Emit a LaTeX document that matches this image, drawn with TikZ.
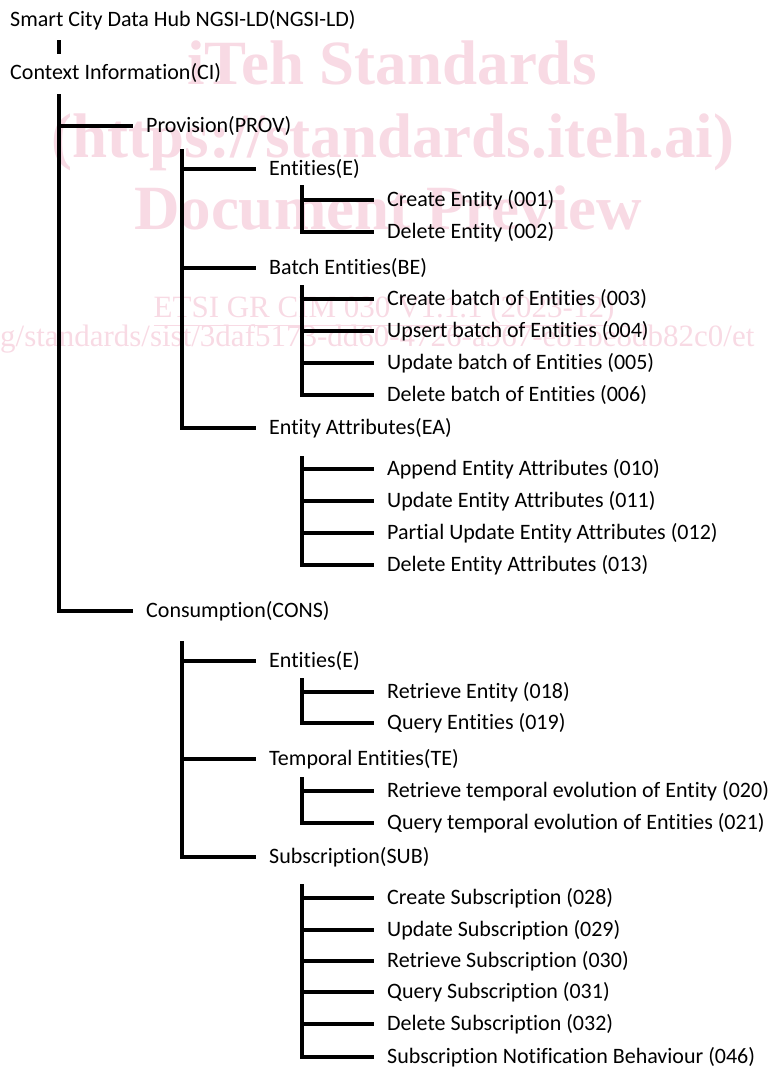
\documentclass[tikz,border=0pt]{standalone}
\usepackage{fontspec}
\setmainfont{Carlito}[Ligatures=NoCommon]
\newfontfamily\wmfont{Liberation Serif}
\definecolor{wmpink}{RGB}{248,218,228}

\tikzset{
  branch/.style={line width=3.2pt},
  item/.style={anchor=west, inner sep=0pt, font=\fontsize{22}{26}\selectfont},
  wmbig/.style={anchor=base, inner sep=0pt, text=wmpink, font=\wmfont\bfseries\fontsize{63}{70}\selectfont},
  wmsmall/.style={anchor=base, inner sep=0pt, text=wmpink, font=\wmfont\fontsize{31}{34}\selectfont}
}

\begin{document}
\begin{tikzpicture}[x=1pt, y=-1pt]
    \useasboundingbox (0,0) rectangle (774,1068);

    % Watermark behind the tree
    \begin{scope}
      \clip (0,0) rectangle (774,1068);
      \node[wmbig] (wm-iteh) at (392,84) {iTeh Standards};
      \node[wmbig] (wm-url) at (393,157) {(https://standards.iteh.ai)};
      \node[wmbig] (wm-doc) at (388,229) {Document Preview};
      \node[wmsmall] (wm-etsi) at (384,317) {\underline{ETSI GR CIM 030 V1.1.1 (2023-12)}};
      \node[wmsmall, anchor=base west] (wm-link) at (0,346) {g/standards/sist/3daf5173-dd60-4726-a967-e81be8db82c0/et};
    \end{scope}

    % Root and context information
    \node[item] (hub) at (10,20) {Smart City Data Hub NGSI-LD(NGSI-LD)};
    \node[item] (ci) at (10,73) {Context Information(CI)};
    \coordinate (tick-top) at (59,40);
    \coordinate (tick-bot) at (59,54);
    \draw[branch] (tick-top) -- (tick-bot);

    % Level 1
    \node[item] (prov) at (146,126) {Provision(PROV)};
    \node[item] (cons) at (146,611) {Consumption(CONS)};
    \coordinate (ci-top) at (59,94);
    \draw[branch] (ci-top) |- ([xshift=-13pt]prov.west);
    \draw[branch] (ci-top) |- ([xshift=-13pt]cons.west);

    % Provision branch
    \node[item] (prov-e) at (269,169) {Entities(E)};
    \node[item] (prov-be) at (269,268) {Batch Entities(BE)};
    \node[item] (prov-ea) at (269,428) {Entity Attributes(EA)};
    \coordinate (prov-top) at (182,149);
    \draw[branch] (prov-top) |- ([xshift=-13pt]prov-e.west);
    \draw[branch] (prov-top) |- ([xshift=-13pt]prov-be.west);
    \draw[branch] (prov-top) |- ([xshift=-13pt]prov-ea.west);

    % Entities(E)
    \node[item] (op001) at (387,200) {Create Entity (001)};
    \node[item] (op002) at (387,232) {Delete Entity (002)};
    \coordinate (prov-e-top) at (302,185);
    \draw[branch] (prov-e-top) |- ([xshift=-13pt]op001.west);
    \draw[branch] (prov-e-top) |- ([xshift=-13pt]op002.west);

    % Batch Entities(BE)
    \node[item] (op003) at (387,299) {Create batch of Entities (003)};
    \node[item] (op004) at (387,331) {Upsert batch of Entities (004)};
    \node[item] (op005) at (387,363) {Update batch of Entities (005)};
    \node[item] (op006) at (387,395) {Delete batch of Entities (006)};
    \coordinate (prov-be-top) at (302,285);
    \draw[branch] (prov-be-top) |- ([xshift=-13pt]op003.west);
    \draw[branch] (prov-be-top) |- ([xshift=-13pt]op004.west);
    \draw[branch] (prov-be-top) |- ([xshift=-13pt]op005.west);
    \draw[branch] (prov-be-top) |- ([xshift=-13pt]op006.west);

    % Entity Attributes(EA)
    \node[item] (op010) at (387,469) {Append Entity Attributes (010)};
    \node[item] (op011) at (387,501) {Update Entity Attributes (011)};
    \node[item] (op012) at (387,533) {Partial Update Entity Attributes (012)};
    \node[item] (op013) at (387,565) {Delete Entity Attributes (013)};
    \coordinate (prov-ea-top) at (302,456);
    \draw[branch] (prov-ea-top) |- ([xshift=-13pt]op010.west);
    \draw[branch] (prov-ea-top) |- ([xshift=-13pt]op011.west);
    \draw[branch] (prov-ea-top) |- ([xshift=-13pt]op012.west);
    \draw[branch] (prov-ea-top) |- ([xshift=-13pt]op013.west);

    % Consumption branch
    \node[item] (cons-e) at (269,661) {Entities(E)};
    \node[item] (cons-te) at (269,759) {Temporal Entities(TE)};
    \node[item] (cons-sub) at (269,857) {Subscription(SUB)};
    \coordinate (cons-top) at (182,641);
    \draw[branch] (cons-top) |- ([xshift=-13pt]cons-e.west);
    \draw[branch] (cons-top) |- ([xshift=-13pt]cons-te.west);
    \draw[branch] (cons-top) |- ([xshift=-13pt]cons-sub.west);

    % Entities(E)
    \node[item] (op018) at (387,692) {Retrieve Entity (018)};
    \node[item] (op019) at (387,723) {Query Entities (019)};
    \coordinate (cons-e-top) at (302,678);
    \draw[branch] (cons-e-top) |- ([xshift=-13pt]op018.west);
    \draw[branch] (cons-e-top) |- ([xshift=-13pt]op019.west);

    % Temporal Entities(TE)
    \node[item] (op020) at (387,791) {Retrieve temporal evolution of Entity (020)};
    \node[item] (op021) at (387,823) {Query temporal evolution of Entities (021)};
    \coordinate (cons-te-top) at (302,777);
    \draw[branch] (cons-te-top) |- ([xshift=-13pt]op020.west);
    \draw[branch] (cons-te-top) |- ([xshift=-13pt]op021.west);

    % Subscription(SUB)
    \node[item] (op028) at (387,898) {Create Subscription (028)};
    \node[item] (op029) at (387,930) {Update Subscription (029)};
    \node[item] (op030) at (387,961) {Retrieve Subscription (030)};
    \node[item] (op031) at (387,992) {Query Subscription (031)};
    \node[item] (op032) at (387,1024) {Delete Subscription (032)};
    \node[item] (op046) at (387,1057) {Subscription Notification Behaviour (046)};
    \coordinate (cons-sub-top) at (302,884);
    \draw[branch] (cons-sub-top) |- ([xshift=-13pt]op028.west);
    \draw[branch] (cons-sub-top) |- ([xshift=-13pt]op029.west);
    \draw[branch] (cons-sub-top) |- ([xshift=-13pt]op030.west);
    \draw[branch] (cons-sub-top) |- ([xshift=-13pt]op031.west);
    \draw[branch] (cons-sub-top) |- ([xshift=-13pt]op032.west);
    \draw[branch] (cons-sub-top) |- ([xshift=-13pt]op046.west);
\end{tikzpicture}
\end{document}
